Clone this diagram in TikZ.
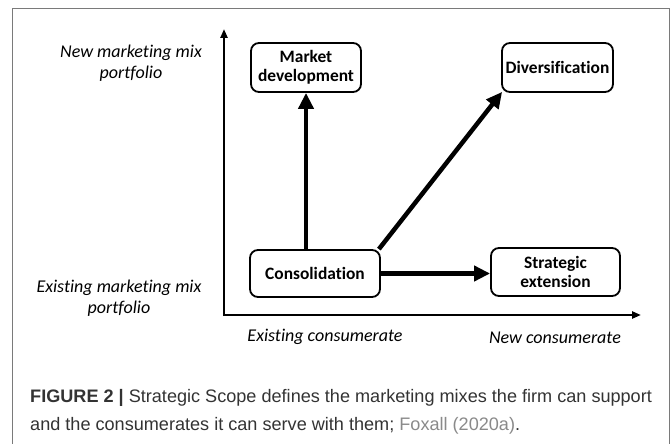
\documentclass[tikz,border=0pt]{standalone}
\usepackage{fontspec}
\setmainfont{Carlito}[Ligatures=NoCommon]
\newfontfamily\capfont{Liberation Sans}
\usetikzlibrary{arrows.meta,calc}
\definecolor{framegray}{HTML}{7A7A7A}
\definecolor{captext}{HTML}{333333}
\definecolor{caplink}{HTML}{8A8A8A}
\begin{document}
\begin{tikzpicture}[x=1pt,y=-1pt,
  stratbox/.style={draw=black, line width=1.8pt, rounded corners=8pt, align=center,
    font=\fontsize{17.4}{19}\selectfont\bfseries, inner sep=0pt},
  axislabel/.style={align=center, font=\fontsize{18}{21}\selectfont\itshape},
  axisline/.style={line width=2.2pt, -{Triangle[length=9pt,width=7pt]}},
  conn/.style={line width=4.5pt, -{Triangle[length=16pt,width=15pt]}}]
\useasboundingbox (0,0) rectangle (672,444);
% outer frame
\draw[framegray, line width=1.5pt] (12.5,446) -- (12.5,8.5) -- (669.5,8.5) -- (669.5,446);
% axes
\coordinate (origin) at (224,315);
\coordinate (ytip) at (224,29);
\coordinate (xtip) at (641,315);
\draw[axisline] ($(origin)+(0,1.1)$) -- (ytip);
\draw[axisline] ($(origin)+(-1.1,0)$) -- (xtip);
% boxes
\node[stratbox, minimum width=110pt, minimum height=49pt] (md) at (306,67.5) {Market\\development};
\node[stratbox, minimum width=111pt, minimum height=49pt] (div) at (557.5,67.5) {Diversification};
\node[stratbox, minimum width=130pt, minimum height=47pt] (cons) at (315,273.5) {Consolidation};
\node[stratbox, minimum width=129pt, minimum height=48pt] (se) at (555.5,272) {Strategic\\extension};
% connectors
\draw[conn] (cons.north -| md.south) -- (md.south);
\draw[conn] (cons.east) -- (cons.east -| se.west);
\draw[conn] ($(cons.north east)+(-2,0)$) -- ($(div.south west)+(1,-1)$);
% axis labels
\node[axislabel] (newmix) at (131,63) {New marketing mix\\portfolio};
\node[axislabel] (oldmix) at (119,298) {Existing marketing mix\\portfolio};
\node[axislabel] (oldcons) at (325,337) {Existing consumerate};
\node[axislabel] (newcons) at (555,338) {New consumerate};
% caption
\node[anchor=north west, align=left, inner sep=0pt, text=captext,
  font=\capfont\fontsize{18.1}{28}\selectfont] (caption) at (30,389)
  {{\bfseries FIGURE 2 |} Strategic Scope defines the marketing mixes the firm can support\\
   and the consumerates it can serve with them; {\color{caplink}Foxall (2020a)}.};
\end{tikzpicture}
\end{document}
